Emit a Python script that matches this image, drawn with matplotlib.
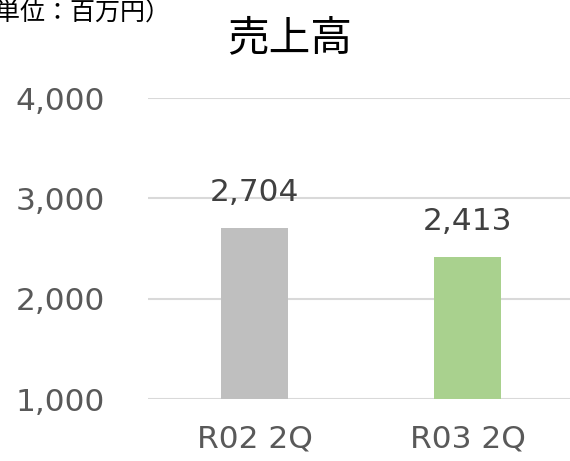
import matplotlib as mpl
import matplotlib.pyplot as plt
import matplotlib.ticker as ticker

mpl.rcParams['font.family'] = ['DejaVu Sans', 'Noto Sans CJK JP']

categories = ['R02 2Q', 'R03 2Q']
sales = [2704, 2413]
bar_colors = ['#bfbfbf', '#a9d18e']
y_ticks = [1000, 2000, 3000, 4000]

fig = plt.figure(figsize=(5.7, 4.61), dpi=100)
ax = fig.add_axes([148 / 570, 62 / 461, 1 - 148 / 570, 301 / 461])

x = range(len(categories))
bars = ax.bar(x, sales, width=0.315, color=bar_colors, zorder=3)

ax.set_ylim(1000, 4000)
ax.set_xlim(-0.5, 1.48)
ax.yaxis.set_major_locator(ticker.FixedLocator(y_ticks))
ax.yaxis.set_major_formatter(ticker.FuncFormatter(lambda v, p: f'{int(v):,}'))
ax.set_xticks(list(x))
ax.set_xticklabels(categories)

ax.grid(axis='y', color='#d9d9d9', linewidth=1.5, zorder=0)
ax.set_axisbelow(True)
for s in ax.spines.values():
    s.set_visible(False)
ax.tick_params(axis='both', length=0, labelsize=22.5, labelcolor='#595959')
ax.tick_params(axis='y', pad=31)
ax.tick_params(axis='x', pad=18)

for b, v in zip(bars, sales):
    ax.annotate(f'{v:,}', (b.get_x() + b.get_width() / 2, v),
                xytext=(0, 15), textcoords='offset points',
                ha='center', va='bottom', fontsize=22.5, color='#404040')

fig.text(290 / 570, 1 - 39 / 461, '売上高', ha='center', va='center',
         fontsize=30, color='#000000', family=['Noto Sans CJK JP', 'DejaVu Sans'])
fig.text(171 / 570, 1 - 13 / 461, '（単位：百万円）', ha='right', va='center',
         fontsize=18, color='#000000', family=['Noto Sans CJK JP', 'DejaVu Sans'])

fig.savefig('out.png', dpi=100)
